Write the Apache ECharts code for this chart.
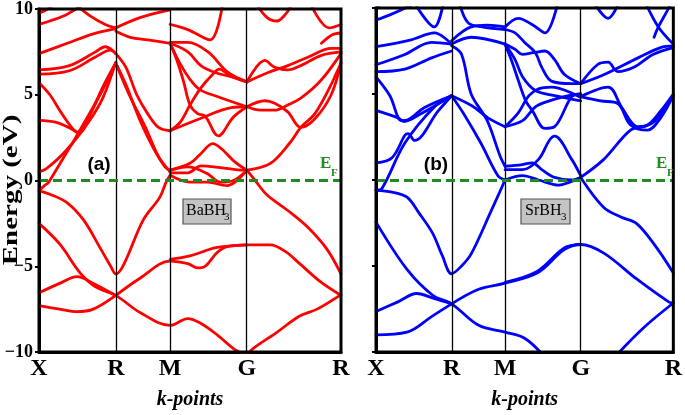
<!DOCTYPE html>
<html><head><meta charset="utf-8">
<script src="https://cdn.jsdelivr.net/npm/echarts@6/dist/echarts.min.js"></script>
<style>html,body{margin:0;padding:0;background:#fff}#c{width:685px;height:415px}</style>
</head><body><div id="c"></div>
<script>
// k-path positions (cumulative distance) and labels
const kTicks = [0, 0.7071, 1.2071, 1.9142, 2.7802];
const kLabels = ['X', 'R', 'M', 'G', 'R'];
const energyMin = -10, energyMax = 10, energyStep = 5;
const fermiLevel = 0;

// BaBH3 bands: [k, E(eV)]
const baBH3Bands = [
 [[0,-0.6],[0.10,-0.8],[0.26,-1.3],[0.41,-2.3],[0.56,-3.9],[0.66,-5.0],[0.707,-5.45],[0.78,-4.9],[0.96,-2.3],[1.11,-1.0],[1.17,-0.1],[1.207,0.3]],
 [[0,-2.5],[0.19,-3.7],[0.38,-5.4],[0.52,-6.2],[0.707,-6.7],[0.93,-7.7],[1.207,-8.45],[1.37,-8.05],[1.48,-8.3],[1.64,-9.0],[1.79,-9.8],[1.914,-10.2]],
 [[1.914,-10.2],[1.97,-9.8],[2.19,-8.85],[2.40,-7.9],[2.56,-7.5],[2.78,-6.65]],
 [[0,-6.55],[0.19,-6.0],[0.35,-5.6],[0.50,-6.0],[0.707,-6.7]],
 [[0,-7.3],[0.19,-7.5],[0.35,-7.65],[0.50,-7.5],[0.707,-6.7]],
 [[0.707,-6.7],[0.93,-5.7],[1.207,-4.7],[1.37,-4.85],[1.46,-5.1],[1.53,-5.0],[1.64,-4.2],[1.73,-3.85],[1.914,-3.75],[2.13,-3.75],[2.27,-4.15],[2.40,-4.85],[2.59,-5.9],[2.78,-6.7]],
 [[1.207,-4.6],[1.39,-4.4],[1.53,-4.1],[1.64,-3.9],[1.914,-3.75]],
 [[1.914,0.6],[1.99,0.0],[2.10,-0.85],[2.29,-1.75],[2.47,-2.7],[2.65,-4.0],[2.78,-5.45]],
 [[1.207,0.6],[1.37,0.8],[1.55,0.4],[1.67,-0.1],[1.79,0.0],[1.914,0.6]],
 [[1.207,0.3],[1.39,-0.1],[1.55,-0.1],[1.73,-0.3],[1.914,0.6]],
 [[1.207,0.45],[1.37,0.45],[1.49,0.85],[1.67,0.75],[1.83,0.62],[1.914,0.6]],
 [[1.207,0.6],[1.39,1.0],[1.48,1.5],[1.60,2.15],[1.68,1.85],[1.80,1.1],[1.914,0.6]],
 [[1.914,0.6],[2.13,1.0],[2.31,2.2],[2.41,3.1],[2.54,3.9],[2.69,5.6],[2.78,6.85]],
 [[1.914,4.3],[2.08,4.65],[2.17,4.5],[2.29,4.0],[2.41,3.1],[2.54,3.6],[2.69,5.0],[2.78,6.85]],
 [[1.914,4.3],[2.04,4.1],[2.17,4.1],[2.29,4.4],[2.41,4.8],[2.59,5.8],[2.78,7.4]],
 [[1.914,5.75],[2.11,6.3],[2.29,6.7],[2.48,7.2],[2.69,7.7],[2.78,7.7]],
 [[1.914,5.75],[2.08,7.0],[2.17,6.6],[2.29,6.45],[2.41,6.7],[2.60,7.3],[2.78,7.5]],
 [[2.50,10.3],[2.67,8.9],[2.78,9.1]],
 [[2.60,8.0],[2.70,8.5],[2.78,8.6]],
 [[2.00,10.3],[2.10,9.5],[2.19,9.3],[2.27,9.7],[2.33,10.3]],
 [[1.207,9.1],[1.37,8.8],[1.575,8.2],[1.69,10.3]],
 [[1.207,8.05],[1.37,8.05],[1.556,7.5],[1.74,6.3],[1.914,5.75]],
 [[1.207,8.0],[1.37,7.5],[1.49,6.7],[1.62,6.3],[1.80,6.0],[1.914,5.75]],
 [[1.207,8.0],[1.27,7.0],[1.33,5.8],[1.39,4.4],[1.46,3.9],[1.53,3.75],[1.65,2.6],[1.79,3.7],[1.914,4.3]],
 [[1.207,8.0],[1.30,6.8],[1.39,5.9],[1.48,5.3],[1.64,4.9],[1.914,4.3]],
 [[1.207,2.9],[1.30,3.4],[1.39,4.4],[1.49,5.4],[1.60,6.2],[1.66,6.5],[1.76,6.1],[1.914,5.75]],
 [[1.207,2.9],[1.48,3.6],[1.77,4.25],[1.914,4.3]],
 [[0,9.75],[0.08,10.0],[0.15,10.3]],
 [[0,9.1],[0.10,9.3],[0.26,9.7],[0.41,10.3]],
 [[0.33,10.3],[0.47,9.6],[0.61,9.1],[0.707,8.9]],
 [[0,7.4],[0.26,8.0],[0.50,8.55],[0.707,8.85]],
 [[0,6.45],[0.28,6.7],[0.52,7.5],[0.61,7.8],[0.707,7.4]],
 [[0,6.2],[0.28,6.4],[0.52,7.2],[0.66,7.6],[0.707,7.4]],
 [[0,5.7],[0.10,5.0],[0.20,4.0],[0.30,3.1],[0.35,2.8],[0.45,3.6],[0.58,5.3],[0.707,6.85]],
 [[0,3.5],[0.15,3.4],[0.27,3.1],[0.37,2.8],[0.48,4.0],[0.60,5.6],[0.707,6.85]],
 [[0,0.5],[0.07,0.7],[0.25,1.75],[0.46,3.45],[0.59,4.85],[0.707,6.9]],
 [[0,-0.6],[0.05,-0.3],[0.09,-0.1],[0.55,4.85],[0.707,6.85]],
 [[0.707,8.9],[0.93,9.5],[1.207,9.95]],
 [[0.707,8.7],[0.84,8.35],[1.00,8.2],[1.207,8.0]],
 [[0.707,7.4],[0.80,6.6],[0.90,5.0],[1.00,3.9],[1.10,3.1],[1.207,2.9]],
 [[0.707,6.85],[0.83,5.0],[0.98,3.1],[1.10,1.4],[1.207,0.5]],
 [[0.707,6.85],[0.80,5.6],[0.93,3.5],[1.06,1.8],[1.16,0.8],[1.207,0.6]]
];

// SrBH3 bands: [k, E(eV)]
const srBH3Bands = [
 [[0,-0.6],[0.15,-0.7],[0.29,-1.0],[0.40,-1.9],[0.53,-3.1],[0.62,-4.4],[0.707,-5.45],[0.80,-5.0],[0.89,-4.3],[1.08,-1.75],[1.207,0.0]],
 [[0,-2.45],[0.29,-5.2],[0.53,-6.7],[0.707,-7.2],[0.96,-8.45],[1.207,-8.85],[1.39,-9.2],[1.58,-10.3]],
 [[2.23,-10.3],[2.50,-8.6],[2.78,-7.15]],
 [[0,-7.65],[0.20,-7.1],[0.38,-6.6],[0.55,-6.9],[0.707,-7.2]],
 [[0,-9.0],[0.29,-8.85],[0.53,-7.9],[0.707,-7.2]],
 [[0.707,-7.2],[0.96,-6.35],[1.207,-6.0],[1.51,-5.4],[1.76,-4.05],[1.914,-3.75],[2.13,-4.25],[2.44,-5.77],[2.74,-7.1],[2.78,-7.15]],
 [[1.207,-5.95],[1.51,-5.3],[1.76,-3.95],[1.914,-3.75]],
 [[1.914,0.15],[2.13,-1.6],[2.29,-2.15],[2.44,-2.55],[2.62,-3.9],[2.78,-5.4]],
 [[1.207,0.6],[1.37,0.6],[1.52,1.2],[1.62,2.3],[1.67,2.55],[1.83,1.2],[1.914,0.25]],
 [[1.207,0.8],[1.37,0.9],[1.46,1.0],[1.55,0.6],[1.67,0.15],[1.83,0.0],[1.914,0.15]],
 [[1.207,0.0],[1.37,0.25],[1.52,0.0],[1.71,-0.3],[1.80,-0.15],[1.914,0.15]],
 [[1.914,0.15],[2.13,1.2],[2.38,2.9],[2.54,3.2],[2.66,4.0],[2.78,5.0]],
 [[1.914,4.85],[2.10,4.6],[2.26,4.45],[2.38,3.2],[2.54,2.9],[2.66,3.6],[2.78,4.9]],
 [[1.914,4.85],[2.17,5.4],[2.30,4.2],[2.45,3.1],[2.58,3.3],[2.68,4.0],[2.78,4.9]],
 [[1.914,5.6],[2.14,6.15],[2.45,7.1],[2.66,7.7],[2.78,7.8]],
 [[1.914,5.6],[2.07,6.7],[2.17,6.85],[2.26,6.3],[2.41,6.55],[2.59,7.3],[2.78,7.7]],
 [[2.52,10.3],[2.64,8.9],[2.78,7.9]],
 [[2.60,8.3],[2.64,8.9],[2.72,9.8],[2.76,10.3]],
 [[2.04,10.3],[2.17,9.4],[2.27,10.3]],
 [[1.207,8.9],[1.33,9.4],[1.47,9.0],[1.58,8.55],[1.70,10.3]],
 [[1.207,8.75],[1.30,8.55],[1.39,8.0],[1.49,7.4],[1.55,6.55],[1.64,5.75],[1.83,5.6],[1.914,5.6]],
 [[1.207,7.9],[1.30,7.6],[1.37,7.3],[1.47,7.4],[1.58,7.5],[1.67,7.0],[1.76,6.15],[1.914,5.6]],
 [[1.207,7.9],[1.30,7.0],[1.37,6.0],[1.49,5.2],[1.67,4.9],[1.914,4.6]],
 [[1.207,7.9],[1.27,6.9],[1.33,5.8],[1.40,4.6],[1.46,4.05],[1.58,3.0],[1.67,3.1],[1.83,4.85],[1.914,5.0]],
 [[1.207,3.1],[1.37,3.45],[1.49,4.25],[1.62,4.6],[1.76,4.85],[1.914,5.0]],
 [[1.207,3.1],[1.33,3.9],[1.43,4.9],[1.52,5.3],[1.64,5.4],[1.914,4.8]],
 [[0,9.3],[0.13,9.6],[0.38,10.3]],
 [[0,9.9],[0.05,10.3]],
 [[0.36,10.3],[0.545,8.9],[0.63,10.3]],
 [[0,7.75],[0.33,8.15],[0.545,8.55],[0.707,7.9]],
 [[0,6.7],[0.27,7.3],[0.52,8.0],[0.707,7.9]],
 [[0,6.3],[0.27,6.45],[0.52,7.1],[0.707,7.5]],
 [[0,6.0],[0.13,4.9],[0.24,3.45],[0.30,3.5],[0.45,4.2],[0.707,4.9]],
 [[0,4.05],[0.21,3.6],[0.26,3.4],[0.42,3.85],[0.707,4.9]],
 [[0,1.0],[0.15,1.3],[0.27,2.6],[0.30,2.7],[0.36,2.3],[0.58,4.0],[0.707,4.9]],
 [[0,-0.6],[0.055,-0.5],[0.27,2.15],[0.545,4.25],[0.707,4.9]],
 [[0.707,7.9],[0.89,8.3],[1.207,7.9]],
 [[0.707,8.1],[0.89,8.9],[1.04,9.0],[1.207,8.9]],
 [[0.78,10.3],[0.86,9.15],[0.99,8.9],[1.207,8.75]],
 [[0.707,7.8],[0.80,7.3],[0.89,5.0],[1.04,3.45],[1.16,1.4],[1.207,0.8]],
 [[0.707,4.9],[0.82,3.85],[0.98,2.15],[1.14,0.25],[1.207,0.0]],
 [[0.707,4.9],[0.90,4.3],[1.05,3.6],[1.207,3.1]]
];

const SERIF = '"Liberation Serif","Times New Roman",serif';
const bandColors = ['#ff0000', '#0000ff'];
const efColor = '#1e8c1e';

function kLabel(v) {
  const i = kTicks.findIndex(t => Math.abs(t - v) < 1e-3);
  return i >= 0 ? kLabels[i] : '';
}

function makeX(idx) {
  return {
    type: 'value', gridIndex: idx, min: kTicks[0], max: kTicks[kTicks.length - 1],
    axisLine: { show: true, onZero: false, lineStyle: { color: '#000', width: 3 } },
    axisTick: { show: false },
    splitLine: { show: false },
    axisLabel: { customValues: kTicks, formatter: kLabel, color: '#000', fontFamily: SERIF,
      fontWeight: 'bold', fontSize: 24, margin: 5 },
    name: 'k-points', nameLocation: 'middle', nameGap: 38,
    nameTextStyle: { fontFamily: SERIF, fontStyle: 'italic', fontWeight: 'bold', fontSize: 20, color: '#000' }
  };
}
function makeY(idx, showLabels) {
  return {
    type: 'value', gridIndex: idx, min: energyMin, max: energyMax, interval: energyStep,
    axisLine: { show: true, onZero: false, lineStyle: { color: '#000', width: 3 } },
    axisTick: { show: true, inside: false, length: 4, lineStyle: { color: '#000', width: 2 } },
    splitLine: { show: false },
    axisLabel: { show: showLabels, color: '#000', fontFamily: SERIF, fontWeight: 'bold', fontSize: 18, margin: 6,
      formatter: v => String(v).replace('-', '\u2212') }
  };
}

const series = [];
[baBH3Bands, srBH3Bands].forEach((bands, idx) => {
  series.push({
    type: 'line', xAxisIndex: idx, yAxisIndex: idx, data: [], z: 1, silent: true, animation: false,
    markLine: { symbol: ['none', 'none'], silent: true, animation: false, label: { show: false },
      lineStyle: { color: '#000', width: 1.3, type: 'solid' },
      data: kTicks.slice(1, -1).map(v => ({ xAxis: v })) }
  });
  bands.forEach(b => series.push({
    type: 'line', xAxisIndex: idx, yAxisIndex: idx, data: b, symbol: 'none', showSymbol: false,
    smooth: 0.35, clip: true, silent: true, animation: false, z: 3,
    lineStyle: { color: bandColors[idx], width: 2.8, cap: 'round', join: 'round' }
  }));
  series.push({
    type: 'line', xAxisIndex: idx, yAxisIndex: idx, data: [], z: 6, silent: true, animation: false,
    markLine: { symbol: ['none', 'none'], silent: true, animation: false, label: { show: false },
      lineStyle: { color: efColor, width: 3, type: [9, 5] },
      data: [{ yAxis: fermiLevel }] }
  });
});

const T = (x, y, text, font, fill) => ({ type: 'text', x: x, y: y, z: 20,
  style: { text: text, font: font, fill: fill, textAlign: 'left', textVerticalAlign: 'middle', verticalAlign: 'middle' } });

const graphic = [
  { type: 'text', x: 12, y: 190, rotation: Math.PI / 2, scaleX: 1.45, z: 20,
    style: { text: 'Energy (eV)', font: 'bold 20px ' + SERIF, fill: '#000', textAlign: 'center', textVerticalAlign: 'middle', verticalAlign: 'middle' } },
  { type: 'text', x: 99, y: 165, z: 20, style: { text: '(a)', font: 'bold 19px "Liberation Sans",Arial,sans-serif', fill: '#000', textAlign: 'center', textVerticalAlign: 'middle', verticalAlign: 'middle' } },
  { type: 'text', x: 436, y: 165, z: 20, style: { text: '(b)', font: 'bold 19px "Liberation Sans",Arial,sans-serif', fill: '#000', textAlign: 'center', textVerticalAlign: 'middle', verticalAlign: 'middle' } },
  T(320, 164, 'E', 'bold 17px ' + SERIF, efColor),
  T(331, 173, 'F', 'bold 11px ' + SERIF, efColor),
  T(656, 164, 'E', 'bold 17px ' + SERIF, efColor),
  T(667, 173, 'F', 'bold 11px ' + SERIF, efColor),
  { type: 'rect', z: 18, shape: { x: 183, y: 199, width: 48, height: 25 }, style: { fill: '#c4c4c4', stroke: '#555', lineWidth: 1.2 } },
  T(186, 211, 'BaBH', '16px ' + SERIF, '#000'),
  T(224, 217, '3', '11px ' + SERIF, '#000'),
  { type: 'rect', z: 18, shape: { x: 521, y: 199, width: 49, height: 25 }, style: { fill: '#c4c4c4', stroke: '#555', lineWidth: 1.2 } },
  T(525, 211, 'SrBH', '16px ' + SERIF, '#000'),
  T(561, 217, '3', '11px ' + SERIF, '#000')
];

const chart = echarts.init(document.getElementById('c'), null, { renderer: 'canvas' });
chart.setOption({
  animation: false,
  backgroundColor: '#fff',
  grid: [
    { left: 39, right: 344, top: 8, bottom: 58, show: true, borderColor: '#000', borderWidth: 3, backgroundColor: 'transparent', z: 10 },
    { left: 376, right: 8, top: 8, bottom: 58, show: true, borderColor: '#000', borderWidth: 3, backgroundColor: 'transparent', z: 10 }
  ],
  xAxis: [makeX(0), makeX(1)],
  yAxis: [makeY(0, true), makeY(1, false)],
  series: series,
  graphic: graphic
});
</script>
</body></html>
